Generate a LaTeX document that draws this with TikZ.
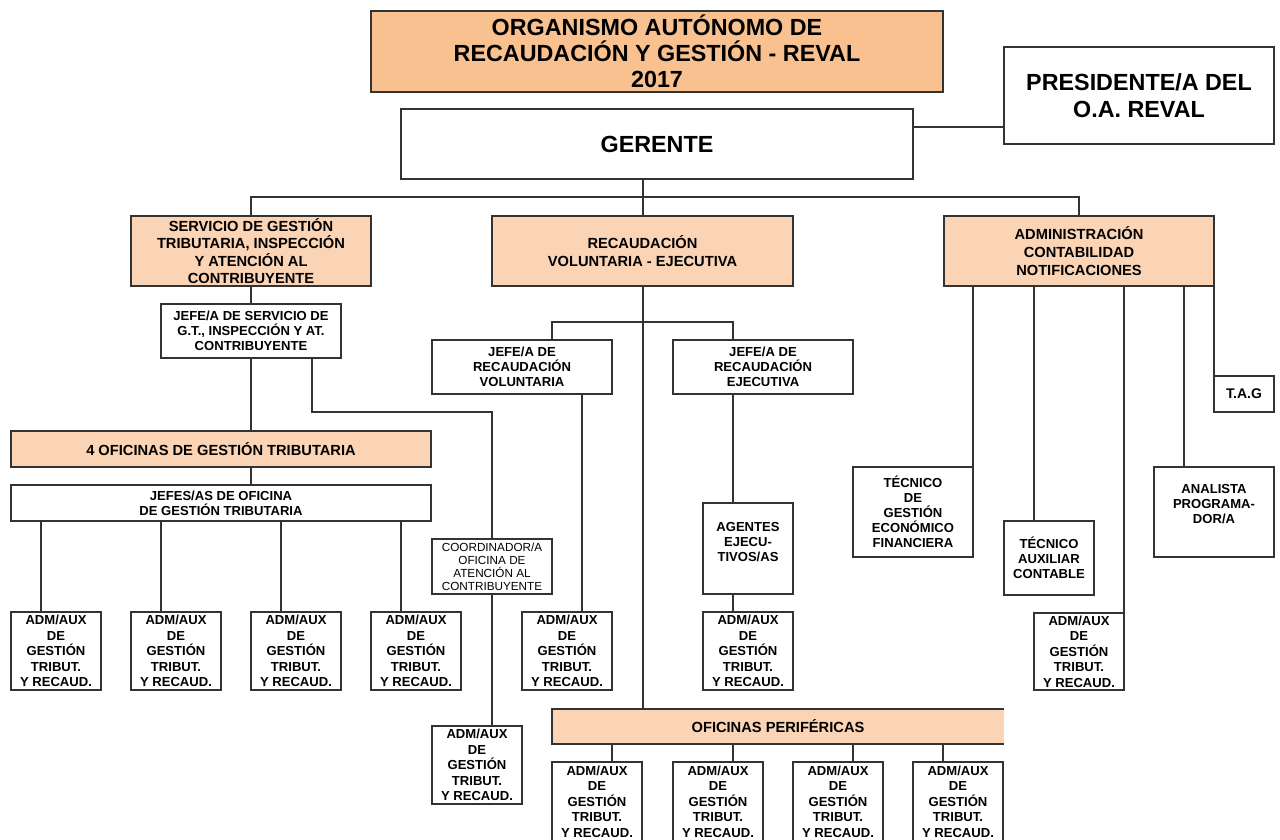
\documentclass[tikz,border=0pt]{standalone}
\usepackage{fontspec}
\setmainfont{Liberation Sans}
\usetikzlibrary{calc}
\definecolor{titlefill}{HTML}{F8C18F}
\definecolor{subfill}{HTML}{FAD4B5}
\definecolor{ink}{HTML}{333333}
\tikzset{
 base/.style={draw=ink, line width=0.9pt, inner sep=0pt, outer sep=0pt, align=center, text=black},
 titlebox/.style={base, fill=titlefill, font=\bfseries\fontsize{17.5}{19.5}\selectfont},
 bigbox/.style={base, fill=white, font=\bfseries\fontsize{17.5}{20}\selectfont},
 secbox/.style={base, fill=subfill, font=\bfseries\fontsize{11}{13.2}\selectfont},
 jefebox/.style={base, fill=white, font=\bfseries\fontsize{9.8}{11.25}\selectfont},
 admbox/.style={base, fill=white, font=\bfseries\fontsize{9.8}{11.6}\selectfont},
 coordbox/.style={base, fill=white, font=\fontsize{8.8}{9.8}\selectfont},
 tagbox/.style={base, fill=white, font=\bfseries\fontsize{10.5}{12}\selectfont},
 link/.style={draw=ink, line width=0.9pt},
 edge/.style={draw=ink, line width=0.9pt},
}
\newcommand{\obox}[7]{\node[#1, minimum width={(#5-#3)*0.75pt}, minimum height={(#6-#4)*0.75pt}] (#2) at ({(#3+#5)/2},{(#4+#6)/2}) {#7};}
\newcommand{\admtxt}{ADM/AUX\\DE\\GESTIÓN\\TRIBUT.\\Y RECAUD.}
\begin{document}
\begin{tikzpicture}[x=0.75pt,y=-0.75pt]
\useasboundingbox (0,0) rectangle (1280,839);
% top
\obox{titlebox}{title}{371}{11}{943}{92}{ORGANISMO AUTÓNOMO DE\\RECAUDACIÓN Y GESTIÓN - REVAL\\2017}
\obox{bigbox}{ger}{401}{109}{913}{179}{GERENTE}
\obox{bigbox}{pres}{1004}{47}{1274}{144}{PRESIDENTE/A DEL\\O.A. REVAL}
% second level
\obox{secbox}{serv}{131}{216}{371}{286}{SERVICIO DE GESTIÓN\\TRIBUTARIA, INSPECCIÓN\\Y ATENCIÓN AL\\CONTRIBUYENTE}
\obox{secbox}{rec}{492}{216}{793}{286}{RECAUDACIÓN\\VOLUNTARIA - EJECUTIVA}
\obox{secbox}{adm}{944}{216}{1214}{286}{ADMINISTRACIÓN\\CONTABILIDAD\\NOTIFICACIONES}
% left branch
\obox{jefebox}{jefeS}{161}{304}{341}{358}{JEFE/A DE SERVICIO DE\\G.T., INSPECCIÓN Y AT.\\CONTRIBUYENTE}
\obox{secbox}{ofi}{11}{431}{431}{467}{4 OFICINAS DE GESTIÓN TRIBUTARIA}
\obox{jefebox}{jefes}{11}{485}{431}{521}{JEFES/AS DE OFICINA\\DE GESTIÓN TRIBUTARIA}
\obox{admbox}{a1}{11}{612}{101}{690}{\admtxt}
\obox{admbox}{a2}{131}{612}{221}{690}{\admtxt}
\obox{admbox}{a3}{251}{612}{341}{690}{\admtxt}
\obox{admbox}{a4}{371}{612}{461}{690}{\admtxt}
\obox{coordbox}{coord}{432}{539}{552}{594}{COORDINADOR/A\\OFICINA DE\\ATENCIÓN AL\\CONTRIBUYENTE}
\obox{admbox}{ac}{432}{726}{522}{804}{\admtxt}
% middle branch
\obox{jefebox}{jv}{432}{340}{612}{394}{JEFE/A DE\\RECAUDACIÓN\\VOLUNTARIA}
\obox{jefebox}{je}{673}{340}{853}{394}{JEFE/A DE\\RECAUDACIÓN\\EJECUTIVA}
\obox{admbox}{av}{522}{612}{612}{690}{\admtxt}
\obox{jefebox}{ag}{703}{503}{793}{594}{AGENTES\\EJECU-\\TIVOS/AS\\[-1pt]}
\obox{admbox}{ae}{703}{612}{793}{690}{\admtxt}
\obox{secbox, draw=none}{ofp}{552}{709}{1004}{744}{OFICINAS PERIFÉRICAS}
\draw[edge] (ofp.north east) -- (ofp.north west) -- (ofp.south west) -- (ofp.south east);
\obox{admbox}{p1}{552}{762}{642}{841}{\admtxt}
\obox{admbox}{p2}{673}{762}{763}{841}{\admtxt}
\obox{admbox}{p3}{793}{762}{883}{841}{\admtxt}
\obox{admbox}{p4}{913}{762}{1003}{841}{\admtxt}
% right branch
\obox{jefebox}{tg}{853}{467}{973}{557}{TÉCNICO\\DE\\GESTIÓN\\ECONÓMICO\\FINANCIERA}
\obox{jefebox}{ta}{1004}{521}{1094}{595}{TÉCNICO\\AUXILIAR\\CONTABLE}
\obox{admbox}{ar}{1034}{613}{1124}{690}{\admtxt}
\obox{jefebox}{an}{1154}{467}{1274}{557}{ANALISTA\\PROGRAMA-\\DOR/A\\[1pt]}
\obox{tagbox}{tag}{1214}{376}{1274}{412}{T.A.G}
% connectors
\draw[link] (ger.east) ++(0,-17) coordinate (gp) -- (gp -| pres.west);
\coordinate (gb) at (643,197);
\draw[link] (ger.south -| gb) -- (gb);
\draw[link] (serv.north) |- (gb) -| (adm.north);
\draw[link] (gb) -- (rec.north -| gb);
\draw[link] (serv.south) -- (jefeS.north);
\draw[link] (jefeS.south) -- (jefeS.south |- ofi.north);
\draw[link] (jefeS.south |- ofi.south) -- (jefeS.south |- jefes.north);
\coordinate (k1) at (312,412);
\draw[link] (jefeS.south -| k1) -- (k1) -| (coord.north);
\draw[link] (coord.south) -- (coord.south |- ac.north);
\foreach \n in {a1,a2,a3,a4} \draw[link] ($(\n.north west)+(30,0)$) coordinate (t) -- (t |- jefes.south);
\draw[link] (rec.south -| gb) -- (gb |- ofp.north);
\coordinate (rb) at (643,322);
\draw[link] ($(jv.north west)+(120,0)$) |- (rb) -| ($(je.north west)+(60,0)$);
\draw[link] ($(jv.south west)+(150,0)$) coordinate (t) -- (t |- av.north);
\draw[link] ($(je.south west)+(60,0)$) coordinate (t) -- (t |- ag.north);
\draw[link] ($(ag.south west)+(30,0)$) coordinate (t) -- (t |- ae.north);
\foreach \n/\d in {p1/60,p2/60,p3/60,p4/30} \draw[link] ($(\n.north west)+(\d,0)$) coordinate (t) -- (t |- ofp.south);
\draw[link] (tg.north east) -- (tg.north east |- adm.south);
\draw[link] ($(ta.north west)+(30,0)$) coordinate (t) -- (t |- adm.south);
\draw[link] (ar.north east) -- (ar.north east |- adm.south);
\draw[link] ($(an.north west)+(30,0)$) coordinate (t) -- (t |- adm.south);
\draw[link] (tag.north west) -- (adm.south east);
\end{tikzpicture}
\end{document}
